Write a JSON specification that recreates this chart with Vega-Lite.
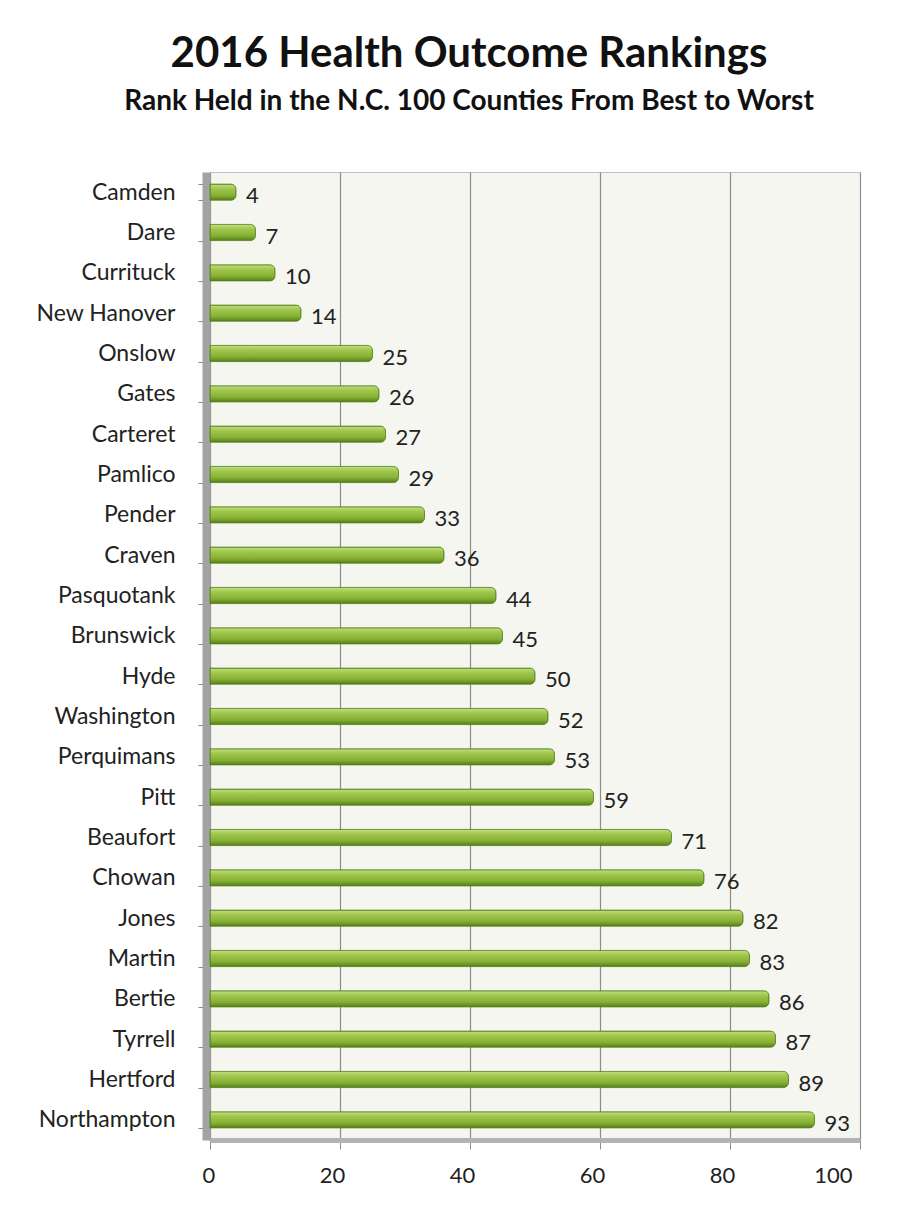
{
  "$schema": "https://vega.github.io/schema/vega-lite/v6.json",
  "width": 650,
  "height": 968,
  "autosize": {"type": "none"},
  "padding": {"left": 210, "top": 172, "right": 49, "bottom": 77},
  "background": "white",
  "title": {
    "text": "2016 Health Outcome Rankings",
    "subtitle": "Rank Held in the N.C. 100 Counties From Best to Worst",
    "anchor": "middle",
    "frame": "group",
    "dx": -66,
    "offset": 44,
    "font": "Lato",
    "fontSize": 42,
    "fontWeight": "bold",
    "color": "#111111",
    "subtitleFont": "Lato",
    "subtitleFontSize": 28,
    "subtitleFontWeight": "bold",
    "subtitleColor": "#111111",
    "subtitlePadding": 12
  },
  "data": {
    "values": [
      {"county": "Camden", "rank": 4},
      {"county": "Dare", "rank": 7},
      {"county": "Currituck", "rank": 10},
      {"county": "New Hanover", "rank": 14},
      {"county": "Onslow", "rank": 25},
      {"county": "Gates", "rank": 26},
      {"county": "Carteret", "rank": 27},
      {"county": "Pamlico", "rank": 29},
      {"county": "Pender", "rank": 33},
      {"county": "Craven", "rank": 36},
      {"county": "Pasquotank", "rank": 44},
      {"county": "Brunswick", "rank": 45},
      {"county": "Hyde", "rank": 50},
      {"county": "Washington", "rank": 52},
      {"county": "Perquimans", "rank": 53},
      {"county": "Pitt", "rank": 59},
      {"county": "Beaufort", "rank": 71},
      {"county": "Chowan", "rank": 76},
      {"county": "Jones", "rank": 82},
      {"county": "Martin", "rank": 83},
      {"county": "Bertie", "rank": 86},
      {"county": "Tyrrell", "rank": 87},
      {"county": "Hertford", "rank": 89},
      {"county": "Northampton", "rank": 93}
    ]
  },
  "encoding": {
    "y": {
      "field": "county",
      "type": "nominal",
      "sort": null,
      "title": null,
      "scale": {"paddingInner": 0.6, "paddingOuter": 0.3},
      "axis": {
        "offset": 4,
        "labelFont": "Lato",
        "labelFontSize": 23,
        "labelColor": "#222222",
        "labelPadding": 23,
        "domainColor": "#a3a3a3",
        "domainWidth": 8,
        "tickColor": "#8a8a8a",
        "tickSize": 8,
        "tickBand": "extent",
        "grid": false
      }
    },
    "x": {
      "field": "rank",
      "type": "quantitative",
      "title": null,
      "scale": {"domain": [0, 100], "nice": false},
      "axis": {
        "values": [0, 20, 40, 60, 80, 100],
        "labelFont": "Lato",
        "labelFontSize": 22,
        "labelColor": "#222222",
        "labelPadding": 16,
        "labelOffset": -8,
        "domainColor": "#b3b3b3",
        "domainWidth": 5,
        "tickColor": "#8a8a8a",
        "tickSize": 9,
        "grid": true,
        "gridColor": "#8c8c8c",
        "gridWidth": 1.2
      }
    }
  },
  "layer": [
    {
      "mark": {
        "type": "bar",
        "cornerRadiusEnd": 5,
        "stroke": "#55801a",
        "strokeWidth": 0.8,
        "color": {
          "gradient": "linear",
          "x1": 0, "y1": 0, "x2": 0, "y2": 1,
          "stops": [
            {"offset": 0, "color": "#c3de80"},
            {"offset": 0.3, "color": "#9fc64c"},
            {"offset": 0.7, "color": "#86b034"},
            {"offset": 1, "color": "#557f18"}
          ]
        }
      }
    },
    {
      "mark": {
        "type": "text",
        "align": "left",
        "baseline": "middle",
        "dx": 10,
        "dy": 4,
        "font": "Lato",
        "fontSize": 22,
        "color": "#222222"
      },
      "encoding": {"text": {"field": "rank", "type": "quantitative"}}
    }
  ],
  "config": {
    "view": {"fill": "#f4f6ef", "stroke": "#c0c0c0", "strokeWidth": 1}
  }
}
